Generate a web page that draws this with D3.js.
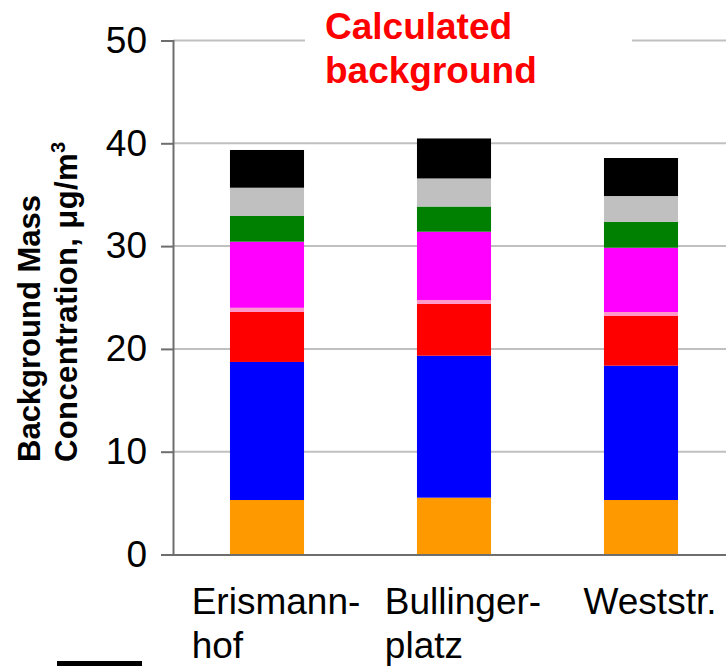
<!DOCTYPE html>
<html>
<head>
<meta charset="utf-8">
<script src="https://cdn.jsdelivr.net/npm/d3@7"></script>
<style>
  html, body { margin: 0; padding: 0; background: #fff; }
  svg { display: block; }
  text { font-family: "Liberation Sans", Arial, Helvetica, sans-serif; }
</style>
</head>
<body>
<svg id="chart" width="726" height="666"></svg>
<script>
// ---- data ----
const categories = ["Erismann-\nhof", "Bullinger-\nplatz", "Weststr."];
const seriesNames = ["s1", "s2", "s3", "s4", "s5", "s6", "s7", "s8"];
const seriesColors = ["#FF9900", "#0000FF", "#FF0000", "#FF99CC", "#FF00FF", "#008000", "#C0C0C0", "#000000"];
const s1 = [5.30, 5.53, 5.30];
const s2 = [13.43, 13.81, 13.07];
const s3 = [4.86, 5.03, 4.83];
const s4 = [0.41, 0.39, 0.39];
const s5 = [6.43, 6.64, 6.25];
const s6 = [2.50, 2.45, 2.51];
const s7 = [2.75, 2.73, 2.52];
const s8 = [3.67, 3.89, 3.70];
const yTicks = [0, 10, 20, 30, 40, 50];
const titleLines = ["Calculated", "background"];
const yTitleLines = ["Background Mass", "Concentration, μg/m"];

const seriesValues = [s1, s2, s3, s4, s5, s6, s7, s8];
const table = categories.map((c, i) => {
  const row = { cat: c };
  seriesNames.forEach((s, j) => row[s] = seriesValues[j][i]);
  return row;
});

const svg = d3.select("#chart");
const x = d3.scaleBand().domain(categories).range([173.5, 734.5])
  .paddingInner(0.604).paddingOuter(0.302);
const y = d3.scaleLinear().domain([0, 50]).range([554.5, 40.5]);

// gridlines
svg.append("g").selectAll("line").data(yTicks.filter(t => t > 0)).join("line")
  .attr("x1", 173).attr("x2", 726)
  .attr("y1", d => y(d)).attr("y2", d => y(d))
  .attr("stroke", "#c0c0c0").attr("stroke-width", 2);

// bars
const stack = d3.stack().keys(seriesNames)(table);
svg.append("g").selectAll("g").data(stack).join("g")
  .attr("fill", (d, i) => seriesColors[i])
  .selectAll("rect").data(d => d).join("rect")
  .attr("x", d => x(d.data.cat))
  .attr("width", x.bandwidth())
  .attr("y", d => y(d[1]))
  .attr("height", d => y(d[0]) - y(d[1]));

// y axis
const yAxis = d3.axisLeft(y).tickValues(yTicks).tickSize(12).tickPadding(14);
const ga = svg.append("g").attr("transform", "translate(173,0)").call(yAxis);
ga.select(".domain").attr("stroke", "#6e6e6e").attr("stroke-width", 2);
ga.selectAll(".tick line").attr("stroke", "#6e6e6e").attr("stroke-width", 2);
ga.selectAll(".tick text").attr("font-size", 37).attr("fill", "#000")
  .style("font-family", "Liberation Sans, Arial, sans-serif");

// x axis line
const xa = d3.axisBottom(x).tickSize(0).tickFormat("");
const gx = svg.append("g").attr("transform", `translate(0,${y(0)})`).call(xa);
gx.select(".domain").attr("stroke", "#6e6e6e").attr("stroke-width", 2);

// category labels
categories.forEach(c => {
  const lines = c.split("\n");
  const g = svg.append("g");
  const t = g.selectAll("text").data(lines).join("text")
    .attr("font-size", 37).attr("fill", "#000")
    .attr("y", (d, i) => 614 + i * 44)
    .text(d => d);
  let w = 0;
  t.each(function () { w = Math.max(w, this.getComputedTextLength()); });
  const cx = x(c) + x.bandwidth() / 2 + 9;
  t.attr("x", cx - w / 2);
});

// y title (left-aligned in rotated frame)
const yt = svg.append("text")
  .attr("transform", "translate(40,462) rotate(-90)")
  .attr("text-anchor", "start").attr("font-weight", "bold")
  .attr("font-size", 31).attr("fill", "#000");
yt.append("tspan").attr("x", 0).attr("y", 0).text(yTitleLines[0]);
yt.append("tspan").attr("x", 0).attr("y", 37).attr("letter-spacing", 0.4).text(yTitleLines[1]);
yt.append("tspan").attr("dy", -12).attr("font-size", 20).text("3");

// title with white background
svg.append("rect").attr("x", 305).attr("y", 5).attr("width", 327).attr("height", 90).attr("fill", "#fff");
svg.append("g").selectAll("text").data(titleLines).join("text")
  .attr("x", 325).attr("y", (d, i) => 39 + i * 44)
  .attr("font-size", 37).attr("font-weight", "bold").attr("fill", "#FF0000")
  .text(d => d);

// legend swatch (cut off at bottom)
svg.append("rect").attr("x", 57).attr("y", 661).attr("width", 85).attr("height", 10)
  .attr("fill", seriesColors[7]);
</script>
</body>
</html>
